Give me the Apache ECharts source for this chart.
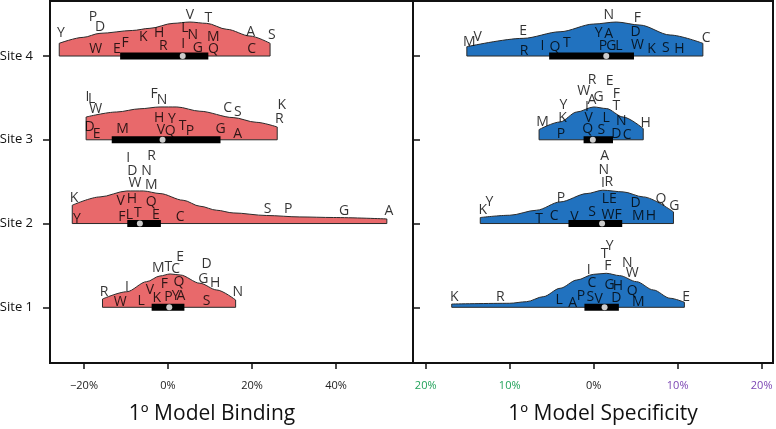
<!DOCTYPE html>
<html>
<head>
<meta charset="utf-8">
<script src="https://cdn.jsdelivr.net/npm/echarts@6/dist/echarts.min.js"></script>
<style>html,body{margin:0;padding:0;background:#fff}#c{width:776px;height:429px}</style>
</head>
<body>
<div id="c"></div>
<script>
// ---------- data ----------
const siteValues = [1, 2, 3, 4];
const siteNames = ['Site 1', 'Site 2', 'Site 3', 'Site 4'];
const bindTicks = [-20, 0, 20, 40];
const specTicks = [-20, -10, 0, 10, 20];

// Binding violins (index 0 = Site 1): outline x (%) and height (site units)
const bindOutlineX = [
  [-15.6,-9.8,-5.1,-1.9,0.5,2.9,7.6,11.6,16.1],
  [-22.8,-16.2,-9.8,-5.9,-1.9,3.6,7.6,11.6,15.5,23.5,31.4,39.4,52.1],
  [-19.5,-12.2,-6.7,-1.9,2.1,7.6,15.5,21.0,26.0],
  [-25.9,-20.2,-16.2,-8.5,-4.3,1.2,5.2,9.2,14.0,19.5,24.3]
];
const bindOutlineH = [
  [0.099,0.186,0.306,0.374,0.398,0.386,0.287,0.207,0.087],
  [0.219,0.318,0.389,0.389,0.358,0.278,0.207,0.159,0.127,0.096,0.079,0.072,0.055],
  [0.272,0.332,0.370,0.392,0.392,0.341,0.265,0.209,0.153],
  [0.152,0.223,0.271,0.305,0.331,0.390,0.406,0.390,0.319,0.239,0.152]
];
const bindLetters = ['MTECDGHNRIVFQWLKPYAS','IRDNWMKVHQSPGAYFLTEC','ILWFNCSKRHYDEMVQTPGA','YPDVTLNASWEFKHRIGMQC'];
const bindLetterX = [
  [-2.3,0.1,2.9,1.8,9.2,8.4,11.2,16.6,-15.2,-9.8,-4.3,-0.9,2.6,-11.4,-6.4,-2.7,0.1,1.8,3.1,9.2],
  [-9.5,-3.9,-8.5,-5.1,-7.9,-4.0,-22.4,-11.3,-8.6,-4.0,23.7,28.6,41.9,52.6,-21.7,-11.0,-9.2,-7.2,-2.9,2.9],
  [-19.2,-18.2,-17.2,-3.3,-1.4,14.2,16.6,27.1,26.5,-2.1,0.9,-18.7,-17.0,-10.8,-1.7,0.5,3.5,5.2,12.5,16.6],
  [-25.5,-17.9,-16.2,5.2,9.6,4.0,5.9,19.7,24.7,-17.2,-12.2,-10.2,-5.9,-2.1,-1.1,3.6,7.1,10.8,10.8,19.9]
];
const bindLetterH = [
  [0.466,0.485,0.605,0.454,0.517,0.335,0.287,0.186,0.186,0.246,0.207,0.275,0.306,0.060,0.079,0.108,0.127,0.139,0.139,0.075],
  [0.777,0.804,0.628,0.628,0.478,0.458,0.299,0.270,0.290,0.258,0.171,0.171,0.151,0.151,0.060,0.079,0.099,0.127,0.099,0.072],
  [0.511,0.484,0.373,0.544,0.472,0.385,0.329,0.412,0.253,0.265,0.253,0.153,0.074,0.134,0.122,0.105,0.161,0.105,0.134,0.066],
  [0.271,0.462,0.350,0.490,0.450,0.331,0.251,0.290,0.251,0.080,0.080,0.159,0.223,0.271,0.119,0.143,0.092,0.223,0.080,0.080]
];
const bindQ1 = [-3.9, -9.7, -13.4, -11.4];
const bindMedian = [0.3, -6.7, -1.3, 3.5];
const bindQ3 = [3.9, -1.7, 12.5, 9.6];

// Specificity violins
const specOutlineX = [
  [-16.9,-10.0,-8.0,-6.0,-4.0,-2.0,0.0,1.5,3.1,5.1,7.1,9.1,10.8],
  [-13.5,-10.0,-6.8,-4.0,-0.8,1.1,3.5,5.9,9.5],
  [-6.5,-4.0,-2.0,0.0,1.5,3.5,5.9],
  [-15.1,-8.4,-4.0,0.0,2.7,5.5,9.1,13.0]
];
const specOutlineH = [
  [0.039,0.048,0.067,0.127,0.227,0.326,0.394,0.406,0.378,0.306,0.207,0.108,0.060],
  [0.072,0.099,0.159,0.258,0.358,0.398,0.378,0.318,0.139],
  [0.122,0.213,0.332,0.392,0.373,0.272,0.134],
  [0.111,0.211,0.290,0.382,0.406,0.370,0.251,0.152]
];
const specLetters = ['YTFNWICGHQKRLAPSVDME','ANIRKYPLEDQGTCVSWFMH','REWGAFYITKVLNHMPQSDC','MVENFYADCRIQTPGLWKSH'];
const specLetterX = [
  [1.9,1.3,1.7,4.0,4.6,-0.6,-0.2,1.9,2.9,4.6,-16.6,-11.1,-4.1,-2.5,-1.5,-0.4,0.6,2.7,5.3,11.0],
  [1.3,1.2,1.1,1.8,-13.2,-12.4,-3.9,1.4,2.3,5.0,8.0,9.6,-6.5,-4.7,-2.3,-0.2,1.7,2.9,5.3,6.8],
  [-0.2,1.9,-1.2,0.6,-0.2,2.7,-3.6,-0.8,2.7,-3.7,-0.6,1.5,3.3,6.2,-6.1,-3.9,-0.7,0.9,2.7,4.0],
  [-14.8,-13.8,-8.4,1.8,5.2,0.6,1.8,5.0,13.4,-8.3,-6.1,-4.6,-3.2,1.1,2.1,3.0,5.2,6.9,8.6,10.2]
];
const specLetterH = [
  [0.732,0.637,0.493,0.526,0.406,0.446,0.287,0.266,0.254,0.198,0.127,0.127,0.087,0.048,0.139,0.127,0.099,0.115,0.067,0.127],
  [0.804,0.645,0.485,0.497,0.159,0.258,0.299,0.287,0.287,0.246,0.290,0.207,0.060,0.087,0.079,0.139,0.099,0.099,0.087,0.087],
  [0.711,0.699,0.583,0.511,0.480,0.544,0.412,0.392,0.400,0.265,0.265,0.265,0.225,0.205,0.213,0.074,0.134,0.114,0.074,0.054],
  [0.171,0.231,0.302,0.490,0.450,0.271,0.263,0.290,0.211,0.063,0.119,0.111,0.159,0.119,0.119,0.119,0.131,0.080,0.092,0.080]
];
const specQ1 = [-1.1, -3.0, -1.2, -5.3];
const specMedian = [1.3, 1.0, -0.1, 1.5];
const specQ3 = [3.0, 3.4, 2.3, 4.8];

// ---------- chart ----------
const FONT = 'Open Sans';
const OUTLINE = '#2a2a2a';
const series = [];

function addPanel(axisIdx, outX, outH, letters, letX, letH, q1, med, q3, fill) {
  for (let s = 0; s < siteValues.length; s++) {
    const base = siteValues[s];
    const xs = outX[s], hs = outH[s], n = xs.length;
    series.push({
      type: 'line', xAxisIndex: axisIdx, yAxisIndex: axisIdx,
      data: xs.map((x, i) => [x, base + hs[i]]),
      smooth: 0.3, smoothMonotone: 'x', symbol: 'none',
      lineStyle: { color: OUTLINE, width: 1 },
      areaStyle: { color: fill, opacity: 1, origin: base },
      z: 2, silent: true
    });
    series.push({
      type: 'line', xAxisIndex: axisIdx, yAxisIndex: axisIdx,
      data: [[xs[0], base + hs[0]], [xs[0], base], [xs[n - 1], base], [xs[n - 1], base + hs[n - 1]]],
      symbol: 'none', lineStyle: { color: OUTLINE, width: 1 }, z: 3, silent: true
    });
    series.push({
      type: 'line', xAxisIndex: axisIdx, yAxisIndex: axisIdx,
      data: [[q1[s], base], [q3[s], base]],
      symbol: 'none', lineStyle: { color: '#000', width: 7 }, z: 4, silent: true
    });
    series.push({
      type: 'scatter', xAxisIndex: axisIdx, yAxisIndex: axisIdx,
      data: [[med[s], base]], symbol: 'circle', symbolSize: 6,
      itemStyle: { color: '#fff' }, z: 5, silent: true
    });
    series.push({
      type: 'scatter', xAxisIndex: axisIdx, yAxisIndex: axisIdx,
      data: letX[s].map((x, i) => [x, base + letH[s][i], letters[s][i]]),
      symbolSize: 1, itemStyle: { color: 'rgba(0,0,0,0)' },
      label: { show: true, position: 'inside', formatter: p => p.data[2],
               fontSize: 14, fontFamily: FONT, color: '#000' },
      z: 6, silent: true
    });
  }
}
addPanel(0, bindOutlineX, bindOutlineH, bindLetters, bindLetterX, bindLetterH, bindQ1, bindMedian, bindQ3, '#E8696B');
addPanel(1, specOutlineX, specOutlineH, specLetters, specLetterX, specLetterH, specQ1, specMedian, specQ3, '#2172BF');

const yBase = { type: 'value', min: 0.335, max: 4.657, splitLine: { show: false },
  axisLine: { show: true, onZero: false, lineStyle: { color: '#111', width: 2 } } };

const option = {
  animation: false,
  grid: [
    { left: 50, top: 1, width: 363, height: 362, show: true, borderColor: '#111', borderWidth: 2, outerBoundsMode: 'none' },
    { left: 413, top: 1, width: 360, height: 362, show: true, borderColor: '#111', borderWidth: 2, outerBoundsMode: 'none' }
  ],
  xAxis: [
    { type: 'value', gridIndex: 0, min: -28.1, max: 58.33, splitLine: { show: false },
      axisLine: { show: true, onZero: false, lineStyle: { color: '#111', width: 2 } },
      axisTick: { show: true, length: 6, customValues: bindTicks, lineStyle: { color: '#111', width: 1.5 } },
      axisLabel: { customValues: bindTicks, margin: 17, fontSize: 11, fontFamily: FONT, color: '#222',
        formatter: v => (v < 0 ? '\u2212' : '') + Math.abs(v) + '%' } },
    { type: 'value', gridIndex: 1, min: -21.51, max: 21.35, splitLine: { show: false },
      axisLine: { show: true, onZero: false, lineStyle: { color: '#111', width: 2 } },
      axisTick: { show: true, length: 6, customValues: specTicks, lineStyle: { color: '#111', width: 1.5 } },
      axisLabel: { customValues: specTicks, margin: 17, fontSize: 11, fontFamily: FONT, color: '#222',
        formatter: v => v < 0 ? '{g|' + Math.abs(v) + '%}' : v > 0 ? '{p|' + v + '%}' : '0%',
        rich: { g: { color: '#22A25A', fontSize: 11, fontFamily: FONT },
                p: { color: '#7B45B3', fontSize: 11, fontFamily: FONT } } } }
  ],
  yAxis: [
    Object.assign({}, yBase, { gridIndex: 0,
      axisTick: { show: true, length: 7, customValues: siteValues, lineStyle: { color: '#111', width: 1.5 } },
      axisLabel: { customValues: siteValues, margin: 17, fontSize: 13, fontFamily: FONT, color: '#111',
        formatter: v => siteNames[siteValues.indexOf(v)] } }),
    Object.assign({}, yBase, { gridIndex: 1,
      axisTick: { show: true, inside: true, length: 7, customValues: siteValues, lineStyle: { color: '#111', width: 1.5 } },
      axisLabel: { show: false } })
  ],
  graphic: [
    { type: 'text', x: 212, y: 414, style: { text: '1º Model Binding', fontSize: 21, fontFamily: FONT,
      fill: '#111', align: 'center', verticalAlign: 'middle' } },
    { type: 'text', x: 603, y: 414, style: { text: '1º Model Specificity', fontSize: 21, fontFamily: FONT,
      fill: '#111', align: 'center', verticalAlign: 'middle' } }
  ],
  series: series
};
const chart = echarts.init(document.getElementById('c'), null, { renderer: 'canvas' });
chart.setOption(option);
</script>
</body>
</html>
